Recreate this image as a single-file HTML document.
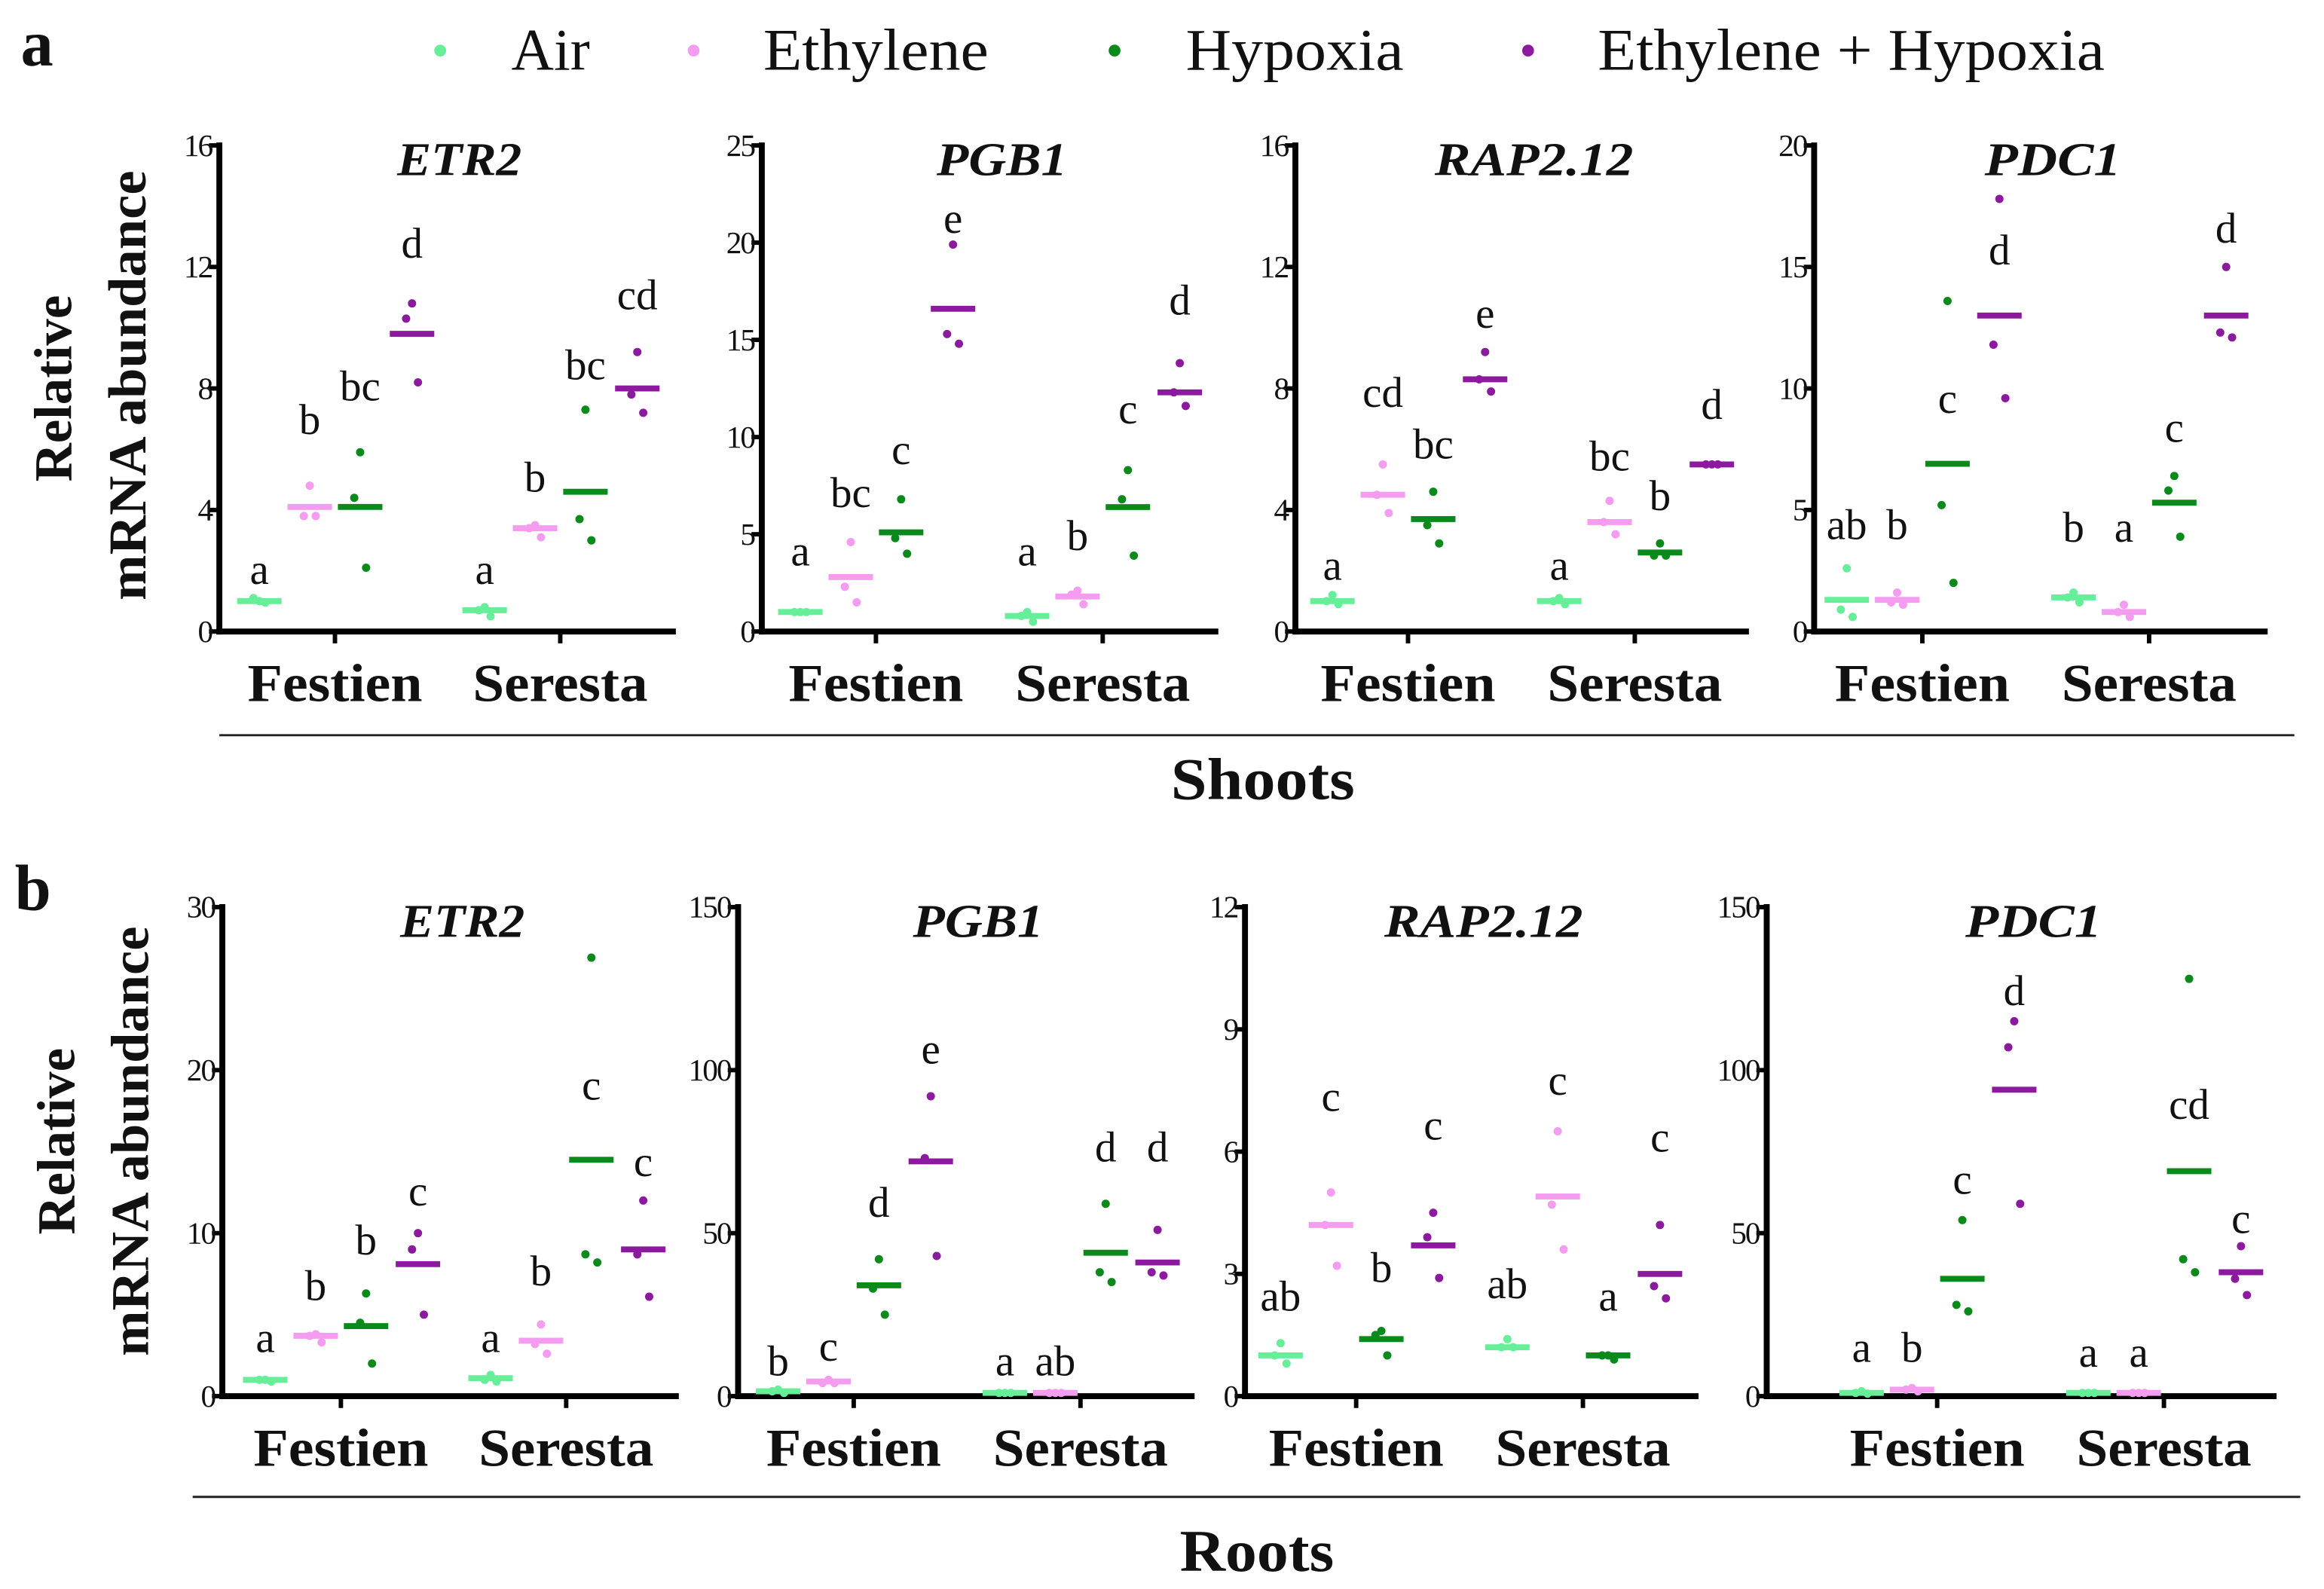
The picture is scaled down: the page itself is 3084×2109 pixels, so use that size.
<!DOCTYPE html>
<html><head><meta charset="utf-8"><style>
html,body{margin:0;padding:0;background:#fff}
svg{display:block}
text{font-family:"Liberation Serif",serif;fill:#111}
</style></head><body>
<svg id="fig" width="3084" height="2109" viewBox="0 0 1568 1072" xmlns="http://www.w3.org/2000/svg">
<rect width="1568" height="1072" fill="#fff"/>
<text x="14" y="44" font-size="44" font-weight="bold">a</text>
<text x="10" y="614" font-size="44" font-weight="bold">b</text>
<g font-size="40">
 <circle cx="297" cy="34" r="4" fill="#66ee99"/><text x="345" y="47" textLength="53" lengthAdjust="spacingAndGlyphs">Air</text>
 <circle cx="468" cy="34" r="4" fill="#f49cf0"/><text x="515" y="47" textLength="152" lengthAdjust="spacingAndGlyphs">Ethylene</text>
 <circle cx="752" cy="34" r="4" fill="#0a8a1a"/><text x="800" y="47" textLength="147" lengthAdjust="spacingAndGlyphs">Hypoxia</text>
 <circle cx="1031" cy="34" r="4" fill="#8b1a9e"/><text x="1078" y="47" textLength="342" lengthAdjust="spacingAndGlyphs">Ethylene + Hypoxia</text>
</g>
<g font-size="36" font-weight="bold">
 <text transform="translate(48,262) rotate(-90)" text-anchor="middle">Relative</text>
 <text transform="translate(98,260) rotate(-90)" text-anchor="middle" textLength="290" lengthAdjust="spacingAndGlyphs">mRNA abundance</text>
 <text transform="translate(50,770) rotate(-90)" text-anchor="middle">Relative</text>
 <text transform="translate(100,770) rotate(-90)" text-anchor="middle" textLength="290" lengthAdjust="spacingAndGlyphs">mRNA abundance</text>
</g>
<line x1="148" y1="496" x2="1548" y2="496" stroke="#222" stroke-width="1.5"/>
<text x="852" y="539" font-size="40" font-weight="bold" text-anchor="middle" textLength="124" lengthAdjust="spacingAndGlyphs">Shoots</text>
<line x1="130" y1="1010" x2="1552" y2="1010" stroke="#222" stroke-width="1.5"/>
<text x="848" y="1060" font-size="40" font-weight="bold" text-anchor="middle" textLength="104" lengthAdjust="spacingAndGlyphs">Roots</text>
<g id="plots"></g>
</svg>
<script>
const treatments = ["Air","Ethylene","Hypoxia","Ethylene + Hypoxia"];
const cultivars = ["Festien","Seresta"];
const colors = ["#66ee99","#f49cf0","#0a8a1a","#8b1a9e"];
const panelTitles = ["ETR2","PGB1","RAP2.12","PDC1","ETR2","PGB1","RAP2.12","PDC1"];
const panelMax = [16,25,16,20,30,150,12,150];
const panelTicks = [[0,4,8,12,16],[0,5,10,15,20,25],[0,4,8,12,16],[0,5,10,15,20],[0,10,20,30],[0,50,100,150],[0,3,6,9,12],[0,50,100,150]];
const means = [
 [1.0,4.1,4.1,9.8, 0.7,3.4,4.6,8.0],
 [1.0,2.8,5.1,16.6, 0.8,1.8,6.4,12.3],
 [1.0,4.5,3.7,8.3, 1.0,3.6,2.6,5.5],
 [1.3,1.3,6.9,13.0, 1.4,0.8,5.3,13.0],
 [1.0,3.7,4.3,8.1, 1.1,3.4,14.5,9.0],
 [1.5,4.5,34,72, 1,1,44,41],
 [1.0,4.2,1.4,3.7, 1.2,4.9,1.0,3.0],
 [1,2,36,94, 1,1,69,38]
];
const points = [
 [[1.0,1.1,0.95],[4.8,3.8,3.8],[5.9,4.4,2.1],[10.8,10.3,8.2],[0.8,0.7,0.5],[3.5,3.4,3.1],[7.3,3.7,3.0],[9.2,7.8,7.2]],
 [[1,1,1],[4.6,2.3,1.5],[6.8,4.8,4.0],[19.9,15.3,14.8],[1.0,0.8,0.5],[2.1,1.9,1.4],[8.3,6.8,3.9],[13.8,12.3,11.6]],
 [[1.2,1.0,0.9],[5.5,4.5,3.9],[4.6,3.5,2.9],[9.2,8.3,7.9],[1.1,1.0,0.9],[4.3,3.6,3.2],[2.9,2.5,2.5],[5.5,5.5,5.5]],
 [[2.6,0.9,0.6],[1.6,1.2,1.1],[13.6,5.2,2.0],[17.8,11.8,9.6],[1.6,1.4,1.2],[1.1,0.8,0.6],[6.4,5.8,3.9],[15.0,12.3,12.1]],
 [[1.0,1.0,0.9],[3.8,3.7,3.3],[6.3,4.5,2.0],[10.0,9.0,5.0],[1.3,1.0,0.9],[4.4,3.2,2.6],[26.9,8.7,8.2],[12.0,8.7,6.1]],
 [[2,1.5,1],[5,4,4],[42,33,25],[92,73,43],[1,1,1],[1,1,1],[59,38,35],[51,38,37]],
 [[1.3,1.0,0.8],[5.0,4.2,3.2],[1.6,1.5,1.0],[4.5,3.9,2.9],[1.4,1.2,1.2],[6.5,4.7,3.6],[1.0,1.0,0.9],[4.2,2.7,2.4]],
 [[1.5,1,0.8],[2.5,2,1.5],[54,28,26],[115,107,59],[1,1,1],[1,1,1],[128,42,38],[46,36,31]]
];
const letters = [
 ["a","b","bc","d","a","b","bc","cd"],
 ["a","bc","c","e","a","b","c","d"],
 ["a","cd","bc","e","a","bc","b","d"],
 ["ab","b","c","d","b","a","c","d"],
 ["a","b","b","c","a","b","c","c"],
 ["b","c","d","e","a","ab","d","d"],
 ["ab","c","b","c","ab","c","a","c"],
 ["a","b","c","d","a","a","cd","c"]
];
// height (in data units) at which each significance letter sits
const letterHeights = [
 [1.56,6.5,7.6,12.3, 1.56,4.6,8.3,10.6],
 [3.4,6.4,8.6,20.5, 3.4,4.2,10.7,16.3],
 [1.7,7.4,5.7,10.0, 1.7,5.3,4.0,7.0],
 [3.8,3.8,9.0,15.1, 3.7,3.7,7.8,16.0],
 [2.7,5.9,8.7,11.7, 2.7,6.8,18.2,13.5],
 [6.4,10.9,55,102, 6.4,6.4,72,72],
 [2.1,7.0,2.8,6.3, 2.4,7.4,2.1,6.0],
 [10.5,10.5,62,120, 9,9,85,50]
];
// layout (not data)
const layout = [
 {ax:148,x2:456,y0:426,yt:98,g:[226,378]},
 {ax:514,x2:822,y0:426,yt:98,g:[591,744]},
 {ax:874,x2:1180,y0:426,yt:98,g:[950,1103]},
 {ax:1224,x2:1530,y0:426,yt:98,g:[1297,1450]},
 {ax:150,x2:458,y0:942,yt:612,g:[230,382]},
 {ax:498,x2:806,y0:942,yt:612,g:[576,729]},
 {ax:840,x2:1146,y0:942,yt:612,g:[915,1068]},
 {ax:1192,x2:1536,y0:942,yt:612,g:[1307,1460]}
];
const titleW=[84,88,134,92,84,88,134,92];
const NS="http://www.w3.org/2000/svg";
const root=document.getElementById('plots');
function mk(tag,attrs,parent){const e=document.createElementNS(NS,tag);for(const k in attrs)e.setAttribute(k,attrs[k]);parent.appendChild(e);return e;}
const offs=[-51,-17,17,52], jit=[0,-4,4];
for(let p=0;p<8;p++){
 const L=layout[p];
 const y=v=>L.y0-(v/panelMax[p])*(L.y0-L.yt);
 const g=mk('g',{},root);
 
 
 const t=mk('text',{x:(L.ax+L.x2)/2+8,y:L.yt+20,'font-size':32,'font-weight':'bold','font-style':'italic','text-anchor':'middle',textLength:titleW[p],lengthAdjust:'spacingAndGlyphs'},g);
 t.textContent=panelTitles[p];
 
 
 const ya=mk('line',{x1:L.ax,y1:L.yt-2,x2:L.ax,y2:L.y0+2,stroke:'#000','stroke-width':4},g);
 
 
 const xa=mk('line',{x1:L.ax-2,y1:L.y0,x2:L.x2,y2:L.y0,stroke:'#000','stroke-width':4},g);
 
 
 panelTicks[p].forEach(v=>{
  mk('line',{x1:L.ax-7,y1:y(v),x2:L.ax,y2:y(v),stroke:'#000','stroke-width':3},g);
  const tl=mk('text',{x:L.ax-5,y:y(v)+7,'font-size':21,'text-anchor':'end','letter-spacing':'-1'},g);
  tl.textContent=v;
  
  
 });
 cultivars.forEach((c,ci)=>{
  const gx=L.g[ci];
  mk('line',{x1:gx,y1:L.y0,x2:gx,y2:L.y0+8,stroke:'#000','stroke-width':3},g);
  const cl=mk('text',{x:gx,y:L.y0+47,'font-size':36,'font-weight':'bold','text-anchor':'middle',textLength:118,lengthAdjust:'spacingAndGlyphs'},g);
  cl.textContent=c;
  
  
  for(let ti=0;ti<4;ti++){
   const k=ci*4+ti, cx=gx+offs[ti];
   const m=mk('line',{x1:cx-15,y1:y(means[p][k]),x2:cx+15,y2:y(means[p][k]),stroke:colors[ti],'stroke-width':4},g);
   
   
   points[p][k].forEach((v,j)=>{
    const d=mk('circle',{cx:cx+jit[j],cy:y(v),r:2.8,fill:colors[ti]},g);
    
    
   });
   const lt=mk('text',{x:cx,y:y(letterHeights[p][k]),'font-size':29,'text-anchor':'middle'},g);
   lt.textContent=letters[p][k];
   
   
  }
 });
}
</script>
</body></html>
